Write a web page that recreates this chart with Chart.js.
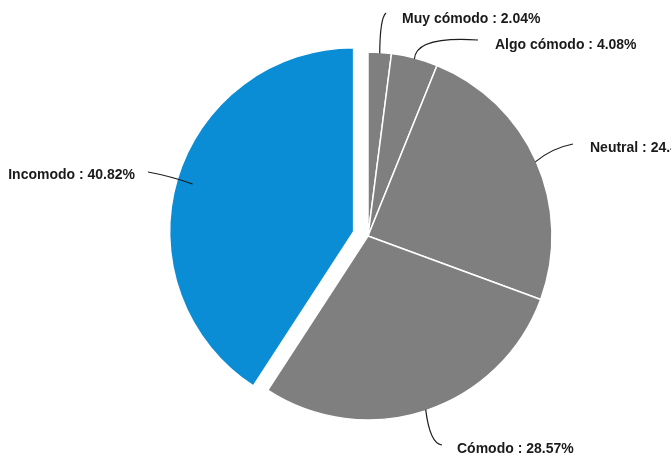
<!DOCTYPE html>
<html>
<head>
<meta charset="utf-8">
<script src="https://cdn.jsdelivr.net/npm/chart.js@4.4.1/dist/chart.umd.min.js"></script>
<style>
  html, body { margin: 0; padding: 0; background: #fff; }
  #wrap { width: 671px; height: 461px; position: relative; }
</style>
</head>
<body>
<div id="wrap"><canvas id="pie" width="671" height="461"></canvas></div>
<script>
// --------- DADOS ----------
const categorias = ['Muy cómodo', 'Algo cómodo', 'Neutral', 'Cómodo', 'Incomodo'];
const porcentagens = [2.04, 4.08, 24.49, 28.57, 40.82];
const cores = ['#7f7f7f', '#7f7f7f', '#7f7f7f', '#7f7f7f', '#0a8dd4'];
const destaque = [0, 0, 0, 0, 15]; // px que a fatia sai do centro

// posição dos rótulos: fim da linha guia, ponto de controle da curva e início do texto
const rotulos = [
  { fim: [386, 13], ctrl: [380, 18], texto: [402, 23], alinhar: 'left' },
  { fim: [478, 40], ctrl: [416, 36], texto: [495, 49], alinhar: 'left' },
  { fim: [573, 144], ctrl: [552, 148], texto: [590, 152], alinhar: 'left' },
  { fim: [442, 445], ctrl: [430, 444], texto: [457, 453], alinhar: 'left' },
  { fim: [148, 172], ctrl: [170, 176], texto: [135, 179], alinhar: 'right' }
];

// --------- PLUGIN: FATIA DESTACADA ----------
// desloca a fatia sem aumentar o raio (o "offset" nativo aumenta)
const destaquePlugin = {
  id: 'destaqueFatia',
  afterDatasetsUpdate(chart) {
    chart.getDatasetMeta(0).data.forEach((arc, i) => {
      if (!destaque[i] || arc._destacado) return;
      const desenhar = arc.draw.bind(arc);
      arc.draw = function (ctx) {
        const meio = (this.startAngle + this.endAngle) / 2;
        ctx.save();
        ctx.translate(Math.cos(meio) * destaque[i], Math.sin(meio) * destaque[i]);
        desenhar(ctx);
        ctx.restore();
      };
      arc._destacado = true;
    });
  }
};

// --------- PLUGIN: LINHAS GUIA E RÓTULOS ----------
const rotulosPlugin = {
  id: 'rotulosPizza',
  afterDatasetsDraw(chart) {
    const ctx = chart.ctx;
    const arcs = chart.getDatasetMeta(0).data;
    ctx.save();
    ctx.font = 'bold 14px "Liberation Sans", Arial, sans-serif';
    arcs.forEach((arc, i) => {
      const meio = (arc.startAngle + arc.endAngle) / 2;
      const r = arc.outerRadius;
      const x0 = arc.x + Math.cos(meio) * (r - 1);
      const y0 = arc.y + Math.sin(meio) * (r - 1);
      const cfg = rotulos[i];
      ctx.strokeStyle = '#1e1e1e';
      ctx.lineWidth = 1.2;
      ctx.beginPath();
      ctx.moveTo(x0, y0);
      ctx.quadraticCurveTo(cfg.ctrl[0], cfg.ctrl[1], cfg.fim[0], cfg.fim[1]);
      ctx.stroke();

      ctx.fillStyle = '#1a1a1a';
      ctx.textAlign = cfg.alinhar;
      ctx.textBaseline = 'alphabetic';
      ctx.fillText(categorias[i] + ' : ' + porcentagens[i].toFixed(2) + '%', cfg.texto[0], cfg.texto[1]);
    });
    ctx.restore();
  }
};

// --------- GRÁFICO ----------
const ctx = document.getElementById('pie').getContext('2d');
const pizza = new Chart(ctx, {
  type: 'pie',
  data: {
    labels: categorias,
    datasets: [{
      data: porcentagens,
      backgroundColor: cores,
      borderColor: '#ffffff',
      borderWidth: 1.5
    }]
  },
  options: {
    responsive: false,
    animation: false,
    radius: 184,
    layout: { padding: { left: 65, right: 0, top: 11, bottom: 0 } },
    plugins: { legend: { display: false }, tooltip: { enabled: false } }
  },
  plugins: [destaquePlugin, rotulosPlugin]
});
</script>
</body>
</html>
